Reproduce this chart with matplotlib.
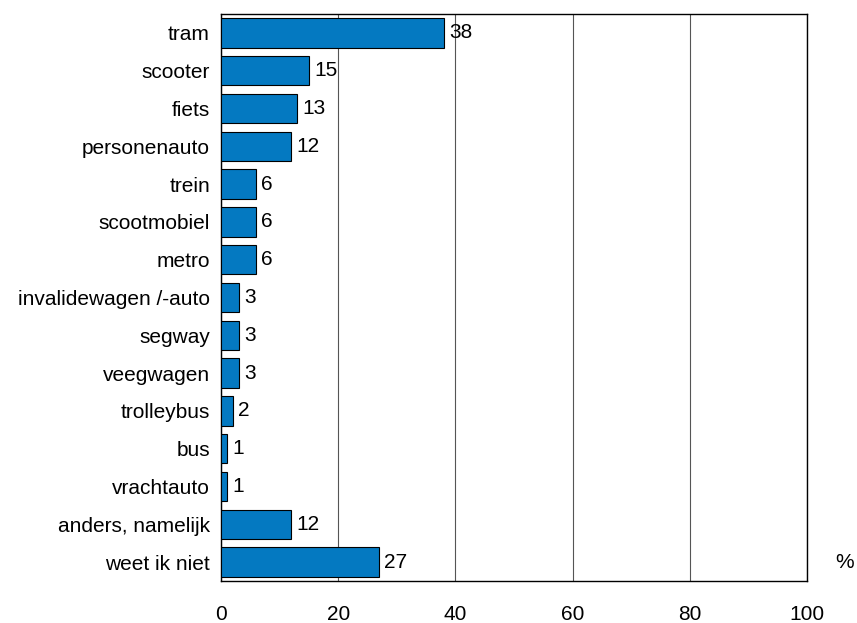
import matplotlib
matplotlib.use("Agg")
import matplotlib.pyplot as plt

categories = ["tram", "scooter", "fiets", "personenauto", "trein", "scootmobiel",
              "metro", "invalidewagen /-auto", "segway", "veegwagen", "trolleybus",
              "bus", "vrachtauto", "anders, namelijk", "weet ik niet"]
values = [38, 15, 13, 12, 6, 6, 6, 3, 3, 3, 2, 1, 1, 12, 27]
xticks = [0, 20, 40, 60, 80, 100]

plt.rcParams["font.family"] = ["Liberation Sans", "DejaVu Sans"]
FS = 15

fig = plt.figure(figsize=(8.57, 6.23), dpi=100)
ax = fig.add_axes([221 / 857, 1 - 581 / 623, (807 - 221) / 857, (581 - 14) / 623])

pos = list(range(len(categories)))
ax.barh(pos, values, height=0.78, color="#0479C1", edgecolor="black", linewidth=0.8, zorder=3)
for p, v in zip(pos, values):
    ax.text(v + 0.9, p, str(v), va="center", ha="left", fontsize=FS, color="black", zorder=4)

ax.set_xlim(0, 100)
ax.set_ylim(len(categories) - 0.5, -0.5)
ax.set_yticks(pos)
ax.set_yticklabels(categories, fontsize=FS)
ax.set_xticks(xticks)
ax.set_xticklabels([str(t) for t in xticks], fontsize=FS)
ax.tick_params(axis="both", length=0)
ax.tick_params(axis="x", pad=17)
ax.tick_params(axis="y", pad=8)
ax.xaxis.grid(True, color="#555555", linewidth=0.8, zorder=0)
for s in ax.spines.values():
    s.set_linewidth(1.0)
    s.set_color("black")

fig.text(845 / 857, 1 - 563 / 623, "%", fontsize=FS, ha="center", va="center")

fig.savefig("out.png", dpi=100)
